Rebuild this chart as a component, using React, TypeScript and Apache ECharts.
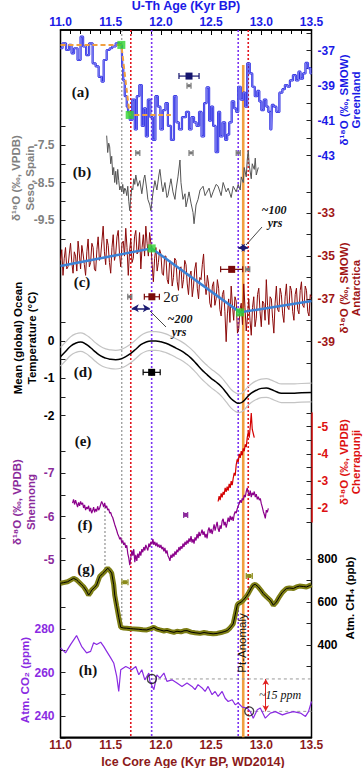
import React, { useEffect, useRef } from 'react';
import * as echarts from 'echarts';

const AGE_MIN = 11.0;
const AGE_MAX = 13.5;

// (a) Greenland d18O (per mil SMOW)
const greenland: number[][] = [[11.00,-36.86],[11.04,-36.58],[11.07,-36.96],[11.10,-36.67],[11.12,-37.15],[11.15,-36.86],[11.19,-37.53],[11.21,-36.2],[11.24,-36.76],[11.27,-37.25],[11.30,-36.58],[11.34,-37.72],[11.36,-37.9],[11.40,-38.49],[11.42,-38.77],[11.44,-37.53],[11.48,-36.96],[11.50,-36.86],[11.53,-36.76],[11.57,-36.58],[11.61,-36.67],[11.62,-37.9],[11.63,-38.7],[11.65,-39.6],[11.67,-40.2],[11.68,-40.5],[11.70,-40.96],[11.73,-39.8],[11.75,-41.5],[11.77,-39.6],[11.80,-38.96],[11.82,-41.3],[11.84,-40.3],[11.86,-41.9],[11.88,-39.8],[11.91,-40.8],[11.93,-42.1],[11.96,-39.6],[11.98,-40.2],[12.01,-41.5],[12.03,-40.4],[12.06,-40.0],[12.08,-41.3],[12.12,-42.1],[12.14,-39.6],[12.17,-41.1],[12.19,-41.5],[12.23,-40.8],[12.27,-40.5],[12.29,-41.5],[12.32,-40.8],[12.34,-41.1],[12.37,-41.3],[12.39,-40.5],[12.42,-41.9],[12.44,-40.0],[12.47,-39.1],[12.49,-41.0],[12.51,-40.2],[12.53,-41.3],[12.56,-42.8],[12.58,-40.5],[12.60,-41.9],[12.63,-41.1],[12.65,-42.1],[12.67,-41.8],[12.69,-41.1],[12.72,-39.9],[12.74,-40.3],[12.76,-40.5],[12.78,-39.06],[12.81,-39.8],[12.83,-39.4],[12.85,-40.2],[12.87,-37.72],[12.90,-38.3],[12.92,-39.06],[12.95,-39.6],[12.97,-39.3],[12.99,-39.9],[13.01,-40.4],[13.04,-39.8],[13.06,-40.2],[13.08,-40.5],[13.10,-41.5],[13.11,-40.1],[13.14,-40.2],[13.16,-40.5],[13.20,-39.4],[13.22,-39.2],[13.25,-38.96],[13.27,-39.06],[13.30,-38.7],[13.33,-38.4],[13.36,-38.7],[13.38,-38.2],[13.40,-38.6],[13.43,-38.3],[13.45,-37.7],[13.48,-38.0],[13.50,-38.3]];
const greenlandTransition: number[][] = [[11.00,-36.67],[11.606,-36.67],[11.689,-40.67],[12.10,-40.67]];
const greenlandTiePoints: number[][] = [[11.606,-36.67],[11.689,-40.67]];

// (b) Seso, Spain d18O (per mil VPDB)
const seso: number[][] = [[11.46,-7.25],[11.47,-7.70],[11.48,-7.45],[11.49,-7.55],[11.50,-8.00],[11.51,-7.80],[11.52,-8.30],[11.53,-8.10],[11.54,-8.50],[11.55,-8.20],[11.56,-8.55],[11.57,-8.15],[11.58,-8.45],[11.59,-8.70],[11.60,-8.60],[11.61,-8.75],[11.62,-8.55],[11.63,-8.80],[11.64,-8.65],[11.65,-8.70],[11.66,-8.85],[11.67,-8.60],[11.68,-9.00],[11.69,-9.25],[11.70,-8.90],[11.71,-8.65],[11.72,-8.70],[11.73,-8.40],[11.74,-8.55],[11.75,-8.30],[11.77,-8.60],[11.79,-8.45],[11.81,-8.80],[11.83,-8.40],[11.84,-8.30],[11.86,-8.70],[11.87,-8.95],[11.89,-9.10],[11.90,-9.25],[11.92,-8.80],[11.94,-8.45],[11.96,-8.70],[11.98,-8.30],[11.99,-8.15],[12.01,-8.60],[12.02,-8.75],[12.04,-8.50],[12.06,-8.90],[12.07,-8.85],[12.09,-8.55],[12.10,-8.40],[12.12,-8.75],[12.14,-8.95],[12.15,-8.70],[12.17,-8.35],[12.19,-7.90],[12.20,-8.50],[12.22,-8.95],[12.24,-8.80],[12.25,-9.15],[12.27,-8.90],[12.28,-8.75],[12.30,-9.05],[12.32,-9.30],[12.33,-9.60],[12.35,-9.10],[12.37,-8.95],[12.39,-8.70],[12.42,-8.60],[12.44,-8.85],[12.45,-8.80],[12.48,-8.65],[12.50,-8.90],[12.52,-8.75],[12.55,-8.55],[12.57,-8.60],[12.60,-8.85],[12.62,-8.50],[12.65,-8.75],[12.67,-8.65],[12.70,-8.90],[12.72,-8.60],[12.75,-8.75],[12.77,-8.55],[12.79,-8.70],[12.80,-8.35],[12.82,-8.50],[12.83,-8.10],[12.85,-8.35],[12.86,-7.90],[12.87,-7.65],[12.88,-8.05],[12.90,-8.40],[12.91,-8.00],[12.93,-8.15],[12.94,-7.85],[12.95,-8.30],[12.97,-8.10]];

// (c) Antarctica d18O (per mil SMOW)
const antarctica: number[][] = [[11.0000,-35.2],[11.0125,-34.7],[11.0250,-35.9],[11.0375,-35.1],[11.0500,-34.6],[11.0625,-35.6],[11.0750,-35.5],[11.0875,-34.9],[11.1000,-34.4],[11.1125,-35.3],[11.1250,-35.8],[11.1375,-34.8],[11.1500,-35.0],[11.1625,-35.7],[11.1750,-34.3],[11.1875,-34.9],[11.2000,-35.6],[11.2125,-34.5],[11.2250,-34.9],[11.2375,-35.4],[11.2500,-35.9],[11.2625,-34.8],[11.2750,-34.2],[11.2875,-35.5],[11.3000,-35.3],[11.3125,-34.4],[11.3250,-34.6],[11.3375,-35.6],[11.3500,-35.7],[11.3625,-34.7],[11.3750,-34.1],[11.3875,-35.2],[11.4000,-35.0],[11.4125,-34.3],[11.4250,-33.6],[11.4375,-34.8],[11.4500,-35.4],[11.4625,-34.2],[11.4750,-34.5],[11.4875,-35.3],[11.5000,-35.8],[11.5125,-34.6],[11.5250,-34.0],[11.5375,-35.2],[11.5500,-34.9],[11.5625,-34.1],[11.5750,-33.8],[11.5875,-34.9],[11.6000,-35.5],[11.6125,-34.4],[11.6250,-34.3],[11.6375,-35.0],[11.6500,-33.7],[11.6625,-34.6],[11.6750,-35.9],[11.6875,-34.8],[11.7000,-34.2],[11.7125,-35.3],[11.7250,-35.1],[11.7375,-34.1],[11.7500,-33.8],[11.7625,-34.9],[11.7750,-34.8],[11.7875,-33.9],[11.8000,-35.6],[11.8125,-34.6],[11.8250,-34.0],[11.8375,-35.0],[11.8500,-33.6],[11.8625,-34.4],[11.8750,-35.0],[11.8875,-33.9],[11.9000,-34.4],[11.9125,-35.4],[11.9250,-36.2],[11.9375,-35.1],[11.9500,-34.6],[11.9625,-35.7],[11.9750,-35.3],[11.9875,-34.7],[12.0000,-34.9],[12.0125,-35.8],[12.0250,-35.9],[12.0375,-35.0],[12.0500,-35.0],[12.0625,-36.1],[12.0750,-36.3],[12.0875,-35.2],[12.1000,-35.3],[12.1125,-36.4],[12.1250,-36.0],[12.1375,-35.1],[12.1500,-35.2],[12.1625,-36.2],[12.1750,-36.6],[12.1875,-35.6],[12.2000,-35.5],[12.2125,-36.5],[12.2250,-36.1],[12.2375,-35.2],[12.2500,-35.4],[12.2625,-36.3],[12.2750,-36.8],[12.2875,-35.9],[12.3000,-35.7],[12.3125,-36.9],[12.3250,-36.4],[12.3375,-35.6],[12.3500,-35.3],[12.3625,-36.5],[12.3750,-37.0],[12.3875,-36.0],[12.4000,-36.1],[12.4125,-35.4],[12.4250,-34.9],[12.4375,-36.2],[12.4500,-36.8],[12.4625,-35.9],[12.4750,-36.3],[12.4875,-37.2],[12.5000,-37.4],[12.5125,-36.4],[12.5250,-36.2],[12.5375,-37.3],[12.5500,-37.0],[12.5625,-36.1],[12.5750,-36.5],[12.5875,-37.5],[12.6000,-37.8],[12.6125,-36.8],[12.6250,-36.6],[12.6375,-37.6],[12.6500,-39.0],[12.6625,-37.7],[12.6750,-37.0],[12.6875,-38.1],[12.7000,-36.4],[12.7125,-37.3],[12.7250,-38.0],[12.7375,-36.9],[12.7500,-37.1],[12.7625,-38.6],[12.7750,-38.4],[12.7875,-37.5],[12.8000,-37.2],[12.8125,-38.2],[12.8250,-36.3],[12.8375,-37.4],[12.8500,-38.5],[12.8625,-37.8],[12.8750,-37.0],[12.8875,-38.0],[12.9000,-38.7],[12.9125,-37.4],[12.9250,-36.9],[12.9375,-38.3],[12.9500,-37.9],[12.9625,-36.8],[12.9750,-36.5],[12.9875,-37.6],[13.0000,-38.3],[13.0125,-37.1],[13.0250,-37.2],[13.0375,-38.0],[13.0500,-36.1],[13.0625,-37.3],[13.0750,-38.2],[13.0875,-36.9],[13.1000,-37.0],[13.1125,-37.9],[13.1250,-38.6],[13.1375,-37.2],[13.1500,-36.4],[13.1625,-37.5],[13.1750,-37.6],[13.1875,-36.5],[13.2000,-36.8],[13.2125,-37.7],[13.2250,-38.1],[13.2375,-36.9],[13.2500,-36.3],[13.2625,-37.4],[13.2750,-37.5],[13.2875,-36.4],[13.3000,-36.6],[13.3125,-37.6],[13.3250,-38.0],[13.3375,-36.8],[13.3500,-36.5],[13.3625,-37.5],[13.3750,-37.7],[13.3875,-36.6],[13.4000,-36.2],[13.4125,-37.3],[13.4250,-37.4],[13.4375,-36.4],[13.4500,-36.6],[13.4625,-37.6],[13.4750,-37.8],[13.4875,-36.8],[13.5000,-36.9]];
const antarcticaTrend: number[][] = [[11.0,-35.46],[11.908,-34.64],[12.788,-37.63],[13.5,-37.1]];
const antarcticaTiePoints: number[][] = [[11.908,-34.64],[12.788,-37.63]];

// (d) Mean global ocean temperature (deg C)
const oceanTemp: number[][] = [[11.00,-0.42],[11.05,-0.28],[11.10,-0.14],[11.15,-0.06],[11.20,-0.03],[11.25,-0.08],[11.30,-0.18],[11.35,-0.30],[11.40,-0.40],[11.45,-0.46],[11.50,-0.49],[11.55,-0.50],[11.60,-0.48],[11.65,-0.42],[11.70,-0.33],[11.75,-0.22],[11.80,-0.10],[11.85,-0.03],[11.90,0.00],[11.95,0.00],[12.00,-0.02],[12.05,-0.06],[12.10,-0.12],[12.15,-0.19],[12.20,-0.26],[12.25,-0.35],[12.30,-0.46],[12.35,-0.60],[12.40,-0.75],[12.45,-0.88],[12.50,-1.00],[12.55,-1.10],[12.60,-1.22],[12.65,-1.38],[12.70,-1.55],[12.75,-1.65],[12.78,-1.67],[12.82,-1.62],[12.86,-1.50],[12.90,-1.40],[12.95,-1.32],[13.00,-1.27],[13.05,-1.26],[13.10,-1.30],[13.15,-1.36],[13.20,-1.40],[13.30,-1.40],[13.40,-1.39],[13.50,-1.38]];
const oceanTempUpper: number[][] = [[11.00,-0.17],[11.05,-0.03],[11.10,0.11],[11.15,0.19],[11.20,0.22],[11.25,0.17],[11.30,0.07],[11.35,-0.05],[11.40,-0.15],[11.45,-0.21],[11.50,-0.24],[11.55,-0.25],[11.60,-0.23],[11.65,-0.17],[11.70,-0.08],[11.75,0.03],[11.80,0.15],[11.85,0.22],[11.90,0.25],[11.95,0.25],[12.00,0.23],[12.05,0.19],[12.10,0.13],[12.15,0.06],[12.20,-0.01],[12.25,-0.10],[12.30,-0.21],[12.35,-0.35],[12.40,-0.50],[12.45,-0.63],[12.50,-0.75],[12.55,-0.85],[12.60,-0.97],[12.65,-1.13],[12.70,-1.30],[12.75,-1.40],[12.78,-1.42],[12.82,-1.37],[12.86,-1.25],[12.90,-1.15],[12.95,-1.07],[13.00,-1.02],[13.05,-1.01],[13.10,-1.05],[13.15,-1.11],[13.20,-1.15],[13.30,-1.15],[13.40,-1.14],[13.50,-1.13]];
const oceanTempLower: number[][] = [[11.00,-0.67],[11.05,-0.53],[11.10,-0.39],[11.15,-0.31],[11.20,-0.28],[11.25,-0.33],[11.30,-0.43],[11.35,-0.55],[11.40,-0.65],[11.45,-0.71],[11.50,-0.74],[11.55,-0.75],[11.60,-0.73],[11.65,-0.67],[11.70,-0.58],[11.75,-0.47],[11.80,-0.35],[11.85,-0.28],[11.90,-0.25],[11.95,-0.25],[12.00,-0.27],[12.05,-0.31],[12.10,-0.37],[12.15,-0.44],[12.20,-0.51],[12.25,-0.60],[12.30,-0.71],[12.35,-0.85],[12.40,-1.00],[12.45,-1.13],[12.50,-1.25],[12.55,-1.35],[12.60,-1.47],[12.65,-1.63],[12.70,-1.80],[12.75,-1.90],[12.78,-1.92],[12.82,-1.87],[12.86,-1.75],[12.90,-1.65],[12.95,-1.57],[13.00,-1.52],[13.05,-1.51],[13.10,-1.55],[13.15,-1.61],[13.20,-1.65],[13.30,-1.65],[13.40,-1.64],[13.50,-1.63]];

// (e) Cherrapunji d18O (per mil VPDB)
const cherrapunji: number[][] = [[12.57,-2.25],[12.58,-2.45],[12.59,-2.3],[12.60,-2.55],[12.61,-2.4],[12.62,-2.6],[12.63,-2.5],[12.64,-2.75],[12.65,-2.6],[12.66,-2.8],[12.67,-2.65],[12.68,-2.9],[12.69,-2.75],[12.70,-3.0],[12.71,-2.85],[12.72,-3.1],[12.73,-3.3],[12.74,-3.2],[12.75,-3.6],[12.76,-3.8],[12.77,-3.7],[12.78,-4.0],[12.79,-3.85],[12.80,-4.1],[12.81,-3.95],[12.82,-4.2],[12.83,-4.1],[12.84,-4.35],[12.85,-4.25],[12.86,-4.6],[12.87,-4.8],[12.88,-4.6],[12.89,-5.0],[12.90,-5.5],[12.91,-4.9],[12.92,-4.75],[12.93,-4.6]];

// (f) Shennong d18O (per mil VPDB)
const shennong: number[][] = [[11.12,-6.31],[11.13,-6.40],[11.14,-6.28],[11.15,-6.38],[11.16,-6.30],[11.17,-6.22],[11.18,-6.33],[11.19,-6.25],[11.20,-6.35],[11.21,-6.28],[11.22,-6.32],[11.23,-6.20],[11.24,-6.27],[11.25,-6.15],[11.26,-6.22],[11.27,-6.18],[11.28,-6.25],[11.29,-6.12],[11.30,-6.20],[11.31,-6.08],[11.32,-6.14],[11.33,-6.22],[11.34,-6.10],[11.35,-6.18],[11.36,-6.12],[11.37,-6.24],[11.38,-6.15],[11.39,-6.20],[11.40,-6.28],[11.41,-6.35],[11.42,-6.30],[11.43,-6.22],[11.44,-6.32],[11.45,-6.20],[11.46,-6.25],[11.47,-6.15],[11.48,-6.18],[11.49,-6.08],[11.50,-6.10],[11.51,-6.02],[11.52,-5.98],[11.53,-5.90],[11.54,-5.82],[11.55,-5.75],[11.56,-5.68],[11.57,-5.60],[11.58,-5.55],[11.59,-5.48],[11.60,-5.52],[11.61,-5.40],[11.62,-5.45],[11.63,-5.35],[11.64,-5.40],[11.65,-5.28],[11.66,-5.34],[11.67,-5.15],[11.68,-5.05],[11.69,-4.88],[11.70,-5.05],[11.71,-5.22],[11.72,-5.10],[11.73,-5.25],[11.74,-4.95],[11.75,-5.12],[11.76,-4.98],[11.77,-5.15],[11.78,-5.05],[11.79,-5.20],[11.80,-5.10],[11.81,-5.25],[11.82,-5.18],[11.83,-5.30],[11.84,-5.22],[11.85,-5.35],[11.86,-5.28],[11.87,-5.22],[11.88,-5.38],[11.89,-5.30],[11.90,-5.42],[11.91,-5.36],[11.92,-5.48],[11.93,-5.35],[11.94,-5.42],[11.95,-5.32],[11.96,-5.40],[11.97,-5.30],[11.98,-5.36],[11.99,-5.28],[12.00,-5.35],[12.01,-5.25],[12.02,-5.30],[12.03,-5.20],[12.04,-5.28],[12.05,-5.15],[12.06,-5.22],[12.07,-5.10],[12.08,-5.05],[12.09,-4.98],[12.10,-5.12],[12.11,-5.05],[12.12,-5.15],[12.13,-5.08],[12.14,-5.20],[12.15,-5.12],[12.16,-5.24],[12.17,-5.18],[12.18,-5.30],[12.19,-5.22],[12.20,-5.32],[12.21,-5.26],[12.22,-5.38],[12.23,-5.30],[12.24,-5.42],[12.25,-5.35],[12.26,-5.45],[12.27,-5.38],[12.28,-5.50],[12.29,-5.42],[12.30,-5.55],[12.31,-5.40],[12.32,-5.48],[12.33,-5.38],[12.34,-5.52],[12.35,-5.45],[12.36,-5.60],[12.37,-5.50],[12.38,-5.65],[12.39,-5.55],[12.40,-5.62],[12.41,-5.70],[12.42,-5.58],[12.43,-5.66],[12.44,-5.52],[12.45,-5.60],[12.46,-5.50],[12.47,-5.68],[12.48,-5.75],[12.49,-5.62],[12.50,-5.72],[12.51,-5.60],[12.52,-5.70],[12.53,-5.82],[12.54,-5.68],[12.55,-5.78],[12.56,-5.88],[12.57,-5.72],[12.58,-5.65],[12.59,-5.80],[12.60,-5.72],[12.61,-5.90],[12.62,-5.95],[12.63,-5.80],[12.64,-5.88],[12.65,-5.75],[12.66,-5.85],[12.67,-5.98],[12.68,-5.88],[12.69,-6.02],[12.70,-5.92],[12.71,-6.00],[12.72,-5.90],[12.73,-6.05],[12.74,-6.12],[12.75,-6.08],[12.76,-6.18],[12.77,-6.25],[12.78,-6.30],[12.79,-6.38],[12.80,-6.32],[12.81,-6.42],[12.82,-6.38],[12.83,-6.50],[12.84,-6.45],[12.85,-6.58],[12.86,-6.66],[12.87,-6.55],[12.88,-6.48],[12.89,-6.60],[12.90,-6.45],[12.91,-6.55],[12.92,-6.50],[12.93,-6.58],[12.94,-6.45],[12.95,-6.52],[12.96,-6.40],[12.97,-6.46],[12.98,-6.38],[12.99,-6.42],[13.00,-6.30],[13.01,-6.22],[13.02,-6.12],[13.03,-6.05],[13.04,-5.96],[13.05,-6.15],[13.06,-6.10],[13.07,-6.19]];

// (g) Atmospheric CH4 (ppb)
const methane: number[][] = [[11.00,687],[11.03,690],[11.07,694],[11.10,702],[11.13,710],[11.16,703],[11.18,694],[11.21,680],[11.23,671],[11.26,650],[11.28,632],[11.30,645],[11.31,655],[11.34,668],[11.36,679],[11.39,718],[11.42,732],[11.44,741],[11.47,757],[11.49,748],[11.51,734],[11.53,680],[11.54,632],[11.56,580],[11.58,529],[11.60,482],[11.63,479],[11.66,478],[11.70,476],[11.73,475],[11.78,473],[11.82,471],[11.86,470],[11.90,476],[11.93,482],[11.96,474],[11.99,470],[12.03,465],[12.06,468],[12.10,462],[12.13,459],[12.16,464],[12.20,461],[12.23,466],[12.26,467],[12.30,460],[12.34,457],[12.39,454],[12.43,458],[12.47,455],[12.52,452],[12.56,454],[12.60,458],[12.63,462],[12.66,467],[12.69,480],[12.72,498],[12.74,540],[12.76,585],[12.77,592],[12.80,600],[12.82,608],[12.85,625],[12.87,639],[12.90,665],[12.92,679],[12.94,682],[12.97,670],[13.00,652],[13.02,639],[13.05,625],[13.09,608],[13.12,585],[13.15,600],[13.18,624],[13.21,645],[13.25,663],[13.28,665],[13.32,663],[13.35,670],[13.38,674],[13.42,672],[13.45,670],[13.48,676],[13.50,680]];

// (h) Atmospheric CO2 (ppm)
const co2: number[][] = [[11.00,271.3],[11.05,269],[11.10,272.8],[11.16,276.9],[11.21,272],[11.26,269],[11.30,269.7],[11.33,273.6],[11.36,272.8],[11.40,273.9],[11.43,272],[11.46,269.7],[11.50,266.7],[11.53,264.4],[11.56,258.3],[11.58,251.4],[11.60,261.3],[11.65,262.8],[11.68,262.1],[11.71,261.3],[11.75,262.8],[11.78,259],[11.81,261.3],[11.84,256.7],[11.88,259.8],[11.89,256],[11.93,252.2],[11.96,259],[11.99,257.5],[12.03,259.8],[12.06,256],[12.11,256.7],[12.16,255.2],[12.21,253.7],[12.26,255.2],[12.31,253.7],[12.34,252.2],[12.37,254.5],[12.41,253],[12.44,251.4],[12.47,253.7],[12.51,249.9],[12.54,251.4],[12.57,249.1],[12.61,251.4],[12.64,248.3],[12.67,246.8],[12.71,247.6],[12.74,245.3],[12.77,246.1],[12.81,244.2],[12.86,243.8],[12.89,242.2],[12.92,239.2],[12.96,243],[12.99,243.8],[13.04,239.2],[13.09,241.5],[13.14,242.2],[13.21,240.7],[13.26,241.5],[13.32,242.2],[13.39,241.5],[13.44,240],[13.47,242.2],[13.50,246.8]];
const co2Markers: number[][] = [[11.91,257.1],[12.88,242.3]];

// dating uncertainties: [age, value, half-width]
const errGreenland: number[][] = [[12.28,-38.45,0.10]];
const errGreenlandGrey: number[][] = [[12.28,-39.0,0.02]];
const errSesoGrey: number[][] = [[11.77,-7.71,0.02],[12.30,-7.71,0.02],[12.77,-7.71,0.02]];
const errAntGrey: number[][] = [[11.69,-36.9,0.02],[12.865,-35.62,0.02]];
const errAnt: number[][] = [[11.91,-36.9,0.075],[12.705,-35.62,0.11]];
const errTemp: number[][] = [[11.908,-0.84,0.085]];
const errShennong: number[][] = [[12.247,-6.04,0.02]];
const errMethane: number[][] = [[11.642,692,0.03],[12.88,721,0.03]];

const ageTickLabels = ['11.0', '11.5', '12.0', '12.5', '13.0', '13.5'];

export default function App() {
  const ref = useRef<HTMLDivElement>(null);
  useEffect(() => {
    if (!ref.current) return;
    const chart = echarts.init(ref.current, null, { renderer: 'svg' });
    const FONT = 'Liberation Sans, Arial, sans-serif';
    const SERIF = 'Liberation Serif, Times New Roman, serif';
    const L = 60.5, WID = 251;
    const TOP = 30, BOT = 737.3;

    const RED = '#e3141e', PURP = '#7b33f2', GREY = '#9a9a9a', ORANGE = '#f0a040';

    const grids: any[] = [
      { left: L, width: WID, top: TOP, height: BOT - TOP, show: true, borderColor: '#000', borderWidth: 1.5, backgroundColor: 'transparent' },
      { left: L, width: WID, top: 33.2, height: 122.5 },   // a
      { left: L, width: WID, top: 126.25, height: 112.5 }, // b
      { left: L, width: WID, top: 191.9, height: 171.2 },  // c
      { left: L, width: WID, top: 322.35, height: 93.25 }, // d
      { left: L, width: WID, top: 413.1, height: 108.8 },  // e
      { left: L, width: WID, top: 451.6, height: 130.1 },  // f
      { left: L, width: WID, top: 559, height: 107.5 },    // g
      { left: L, width: WID, top: 606.9, height: 131.4 },  // h
    ];

    const ageLabel = (v: number) => ageTickLabels.find(t => Math.abs(parseFloat(t) - v) < 1e-6) || '';
    const xAxes: any[] = [
      {
        type: 'value', gridIndex: 0, position: 'bottom', min: AGE_MIN, max: AGE_MAX, interval: 0.5,
        axisLine: { show: true, lineStyle: { color: '#000', width: 1.5 } }, axisTick: { show: false }, splitLine: { show: false },
        axisLabel: { color: '#8b1a1a', fontWeight: 'bold', fontSize: 12, fontFamily: FONT, margin: 2, formatter: ageLabel },
      },
      {
        type: 'value', gridIndex: 0, position: 'top', min: AGE_MIN, max: AGE_MAX, interval: 0.5,
        axisLine: { show: true, lineStyle: { color: '#000', width: 1.5 } },
        axisTick: { show: true, inside: true, length: 5, lineStyle: { color: '#000' } },
        minorTick: { show: true, splitNumber: 5, length: 4, lineStyle: { color: '#000' } },
        splitLine: { show: false },
        axisLabel: { color: '#1a1ae6', fontWeight: 'bold', fontSize: 12, fontFamily: FONT, margin: 2, formatter: ageLabel },
      },
    ];
    for (let g = 1; g <= 8; g++) {
      xAxes.push({ type: 'value', gridIndex: g, min: AGE_MIN, max: AGE_MAX, show: false });
    }

    const yAx = (gridIndex: number, position: string, min: number, max: number, interval: number, labels: number[], color: string, inverse = false) => ({
      type: 'value', gridIndex, position, min, max, interval, inverse,
      axisLine: { show: false }, splitLine: { show: false },
      axisTick: { show: true, inside: true, length: 5, lineStyle: { color: '#222', width: 1 } },
      axisLabel: {
        color, fontWeight: 'bold', fontSize: 12, fontFamily: FONT, margin: 6,
        formatter: (v: number) => { const m = labels.find(l => Math.abs(l - v) < 1e-6); return m === undefined ? '' : String(m); },
      },
    });

    const yAxes: any[] = [
      { type: 'value', gridIndex: 0, min: TOP, max: BOT, inverse: true, show: false },
      yAx(1, 'right', -43, -36, 1, [-37, -39, -41, -43], '#1a1ae6'),
      yAx(2, 'left', -10, -7, 0.5, [-7.5, -8.5, -9.5], '#808080'),
      yAx(3, 'right', -40, -32, 1, [-33, -35, -37, -39], '#a01515'),
      yAx(4, 'left', -2, 0.5, 0.5, [0, -1, -2], '#000'),
      { ...yAx(5, 'right', -5.5, -1.5, 0.5, [-5, -4, -3, -2], '#dd1111', true), axisLine: { show: true, lineStyle: { color: '#dd1111', width: 1.5 } } },
      yAx(6, 'left', -7.5, -4.5, 0.5, [-7, -6, -5], '#8b2a9b', true),
      yAx(7, 'right', 300, 800, 100, [400, 600, 800], '#000'),
      yAx(8, 'left', 230, 290, 10, [240, 260, 280], '#8a2be2'),
    ];

    const series: any[] = [];
    const line = (g: number, data: number[][], color: string, width: number, extra: any = {}) => ({
      type: 'line', xAxisIndex: g + 1, yAxisIndex: g, data, symbol: 'none', showSymbol: false,
      lineStyle: { color, width }, silent: true, ...extra,
    });

    // vertical reference lines (ages of events) drawn in the frame grid
    const refLines = [
      { age: 11.61, y0: TOP, y1: 627, color: GREY, w: 1.3, t: [2, 2] },
      { age: 11.443, y0: 507, y1: 574, color: GREY, w: 1.3, t: [2, 2] },
      { age: 11.70, y0: TOP, y1: BOT, color: RED, w: 1.6, t: [2, 2] },
      { age: 11.908, y0: TOP, y1: BOT, color: PURP, w: 1.6, t: [2, 2] },
      { age: 12.77, y0: TOP, y1: BOT, color: PURP, w: 1.6, t: [2, 2] },
      { age: 12.87, y0: TOP, y1: BOT, color: RED, w: 1.6, t: [2, 2] },
      { age: 12.82, y0: 65, y1: BOT, color: ORANGE, w: 2.6, t: 'solid' },
    ];
    refLines.forEach(r => {
      series.push({
        type: 'line', xAxisIndex: 0, yAxisIndex: 0, data: [[r.age, r.y0], [r.age, r.y1]], symbol: 'none',
        lineStyle: { color: r.color, width: r.w, type: r.t }, silent: true, z: 1,
      });
    });
    // double arrows
    series.push({
      type: 'line', xAxisIndex: 0, yAxisIndex: 0, data: [], silent: true,
      markLine: {
        silent: true, symbol: ['arrow', 'arrow'], symbolSize: [6, 7], label: { show: false },
        lineStyle: { color: '#1a1a70', width: 1.5, type: 'solid' },
        data: [
          [{ coord: [11.71, 308.3] }, { coord: [11.89, 308.3] }],
          [{ coord: [12.77, 247.7] }, { coord: [12.87, 247.7] }],
        ],
      },
    });

    // (a)
    series.push(line(1, greenland, '#2424e0', 2.2, { step: 'middle', z: 3 }));
    series.push(line(1, greenland, '#b8bcff', 0.6, { step: 'middle', z: 3 }));
    series.push(line(1, greenlandTransition, ORANGE, 2, { lineStyle: { color: ORANGE, width: 2, type: [5, 3] }, z: 4 }));
    series.push({ type: 'scatter', xAxisIndex: 2, yAxisIndex: 1, data: greenlandTiePoints, symbol: 'rect', symbolSize: 8, itemStyle: { color: '#2fd42f' }, z: 5, silent: true });
    // (b)
    series.push(line(2, seso, '#555', 1, { z: 3 }));
    // (c)
    series.push(line(3, antarctica, '#8b0a0a', 1, { z: 3 }));
    series.push(line(3, antarcticaTrend, '#3b82d6', 2.5, { z: 4 }));
    series.push({ type: 'scatter', xAxisIndex: 4, yAxisIndex: 3, data: antarcticaTiePoints, symbol: 'rect', symbolSize: 8, itemStyle: { color: '#2fd42f' }, z: 5, silent: true });
    // (d)
    series.push(line(4, oceanTempUpper, '#c4c4c4', 1.2, { smooth: true, z: 3 }));
    series.push(line(4, oceanTempLower, '#c4c4c4', 1.2, { smooth: true, z: 3 }));
    series.push(line(4, oceanTemp, '#000', 1.5, { smooth: true, z: 4 }));
    // (e)
    series.push(line(5, cherrapunji, '#d40000', 1.2, { z: 3 }));
    // (f)
    series.push(line(6, shennong, '#8b008b', 1.2, { z: 3 }));
    // (g)
    series.push(line(7, methane, '#7d7d14', 5, { z: 3 }));
    series.push(line(7, methane, '#000', 1, { z: 4 }));
    // (h)
    series.push(line(8, co2, '#8a2be2', 1.2, { z: 3 }));
    series.push(line(8, [[co2Markers[0][0], co2Markers[0][1]], [AGE_MAX, co2Markers[0][1]]], '#999', 1, { lineStyle: { color: '#999', width: 1, type: [3, 3] }, z: 2 }));
    series.push(line(8, [[co2Markers[1][0], co2Markers[1][1]], [AGE_MAX, co2Markers[1][1]]], '#999', 1, { lineStyle: { color: '#999', width: 1, type: [3, 3] }, z: 2 }));
    series.push({ type: 'scatter', xAxisIndex: 9, yAxisIndex: 8, data: co2Markers, symbol: 'circle', symbolSize: 9, itemStyle: { color: 'rgba(0,0,0,0)', borderColor: '#111', borderWidth: 1.3 }, z: 6, silent: true });
    series.push({
      type: 'line', xAxisIndex: 9, yAxisIndex: 8, data: [], silent: true,
      markLine: {
        silent: true, symbol: ['arrow', 'arrow'], symbolSize: [5, 6], label: { show: false },
        lineStyle: { color: '#e02020', width: 1, type: 'solid' },
        data: [[{ coord: [13.044, co2Markers[0][1]] }, { coord: [13.044, co2Markers[1][1]] }]],
      },
    });

    // error bars
    const errSeries = (g: number, data: number[][], color: string, sq: number) => ({
      type: 'custom', xAxisIndex: g + 1, yAxisIndex: g, data, silent: true, z: 7,
      renderItem: (params: any, api: any) => {
        const a = api.value(0), v = api.value(1), e = api.value(2);
        const l = api.coord([a - e, v]); const r = api.coord([a + e, v]); const c = api.coord([a, v]);
        const st = { stroke: color, lineWidth: 1.2 };
        return {
          type: 'group', children: [
            { type: 'line', shape: { x1: l[0], y1: l[1], x2: r[0], y2: r[1] }, style: st },
            { type: 'line', shape: { x1: l[0], y1: l[1] - 3, x2: l[0], y2: l[1] + 3 }, style: st },
            { type: 'line', shape: { x1: r[0], y1: r[1] - 3, x2: r[0], y2: r[1] + 3 }, style: st },
            { type: 'rect', shape: { x: c[0] - sq / 2, y: c[1] - sq / 2, width: sq, height: sq }, style: { fill: color } },
          ],
        };
      },
    });
    series.push(errSeries(1, errGreenland, '#14146e', 7));
    series.push(errSeries(1, errGreenlandGrey, '#777', 3));
    series.push(errSeries(2, errSesoGrey, '#777', 3));
    series.push(errSeries(3, errAntGrey, '#777', 3));
    series.push(errSeries(3, errAnt, '#7a0a0a', 7));
    series.push(errSeries(4, errTemp, '#000', 7));
    series.push(errSeries(6, errShennong, '#8b2a9b', 4));
    series.push(errSeries(7, errMethane, '#8b8b1a', 4));

    const txt = (x: number, y: number, text: string, fill: string, font: string, rotation = 0) => ({
      type: 'text', x, y, rotation, silent: true, z: 20,
      style: { text, fill, font, textAlign: 'center', textVerticalAlign: 'middle' },
    });
    const AX = `bold 11.5px ${FONT}`;
    const PL = `bold 15px ${SERIF}`;
    const ANN = `italic bold 12px ${SERIF}`;
    const R = Math.PI / 2;
    const graphic: any[] = [
      txt(186, 6, 'U-Th Age (Kyr BP)', '#1a1ae6', `bold 12.5px ${FONT}`),
      txt(193, 761.5, 'Ice Core Age (Kyr BP, WD2014)', '#8b1a1a', `bold 12.5px ${FONT}`),
      // left axis titles
      txt(16, 178, 'δ¹⁸O (‰, VPDB)', '#808080', AX, R),
      txt(30, 178, 'Seso, Spain', '#808080', AX, R),
      txt(18, 338, 'Mean (global) Ocean', '#000', AX, R),
      txt(32, 338, 'Temperature (°C)', '#000', AX, R),
      txt(17, 502, 'δ¹⁸O (‰, VPDB)', '#8b2a9b', AX, R),
      txt(31, 502, 'Shennong', '#8b2a9b', AX, R),
      txt(25, 680, 'Atm. CO₂ (ppm)', '#8a2be2', AX, R),
      // right axis titles
      txt(344, 100, 'δ¹⁸O (‰, SMOW)', '#1a1ae6', AX, R),
      txt(356, 100, 'Greenland', '#1a1ae6', AX, R),
      txt(344, 288, 'δ¹⁸O (‰, SMOW)', '#a01515', AX, R),
      txt(356, 288, 'Antarctica', '#a01515', AX, R),
      txt(344, 462, 'δ¹⁸O (‰, VPDB)', '#dd1111', AX, R),
      txt(356, 462, 'Cherrapunji', '#dd1111', AX, R),
      txt(350, 598, 'Atm. CH₄ (ppb)', '#000', AX, R),
      // panel letters
      txt(80.5, 91.7, '(a)', '#111', PL),
      txt(82, 171.7, '(b)', '#111', PL),
      txt(82, 281.7, '(c)', '#111', PL),
      txt(83, 372.3, '(d)', '#111', PL),
      txt(83, 441, '(e)', '#111', PL),
      txt(85, 525, '(f)', '#111', PL),
      txt(86, 569, '(g)', '#111', PL),
      txt(88, 670, '(h)', '#111', PL),
      // annotations
      txt(171, 296.7, '2σ', '#111', `15px ${SERIF}`),
      txt(274, 210, '~100', '#111', ANN),
      txt(275, 223, 'yrs', '#111', ANN),
      txt(180, 318.5, '~200', '#111', ANN),
      txt(179, 331.5, 'yrs', '#111', ANN),
      txt(280, 695, '~15 ppm', '#111', `italic 12px ${SERIF}`),
      txt(242, 643, 'Pt-Anomaly', '#111', `11.5px ${FONT}`, R),
      { type: 'line', silent: true, z: 20, shape: { x1: 262, y1: 227, x2: 246, y2: 245 }, style: { stroke: '#333', lineWidth: 0.9 } },
      { type: 'line', silent: true, z: 20, shape: { x1: 166, y1: 327, x2: 150, y2: 311 }, style: { stroke: '#333', lineWidth: 0.9 } },
    ];

    chart.setOption({
      animation: false,
      backgroundColor: '#fff',
      grid: grids,
      xAxis: xAxes,
      yAxis: yAxes,
      series,
      graphic,
    });
    return () => chart.dispose();
  }, []);
  return <div ref={ref} style={{ position: 'fixed', left: 0, top: 0, width: 363, height: 768 }} />;
}
